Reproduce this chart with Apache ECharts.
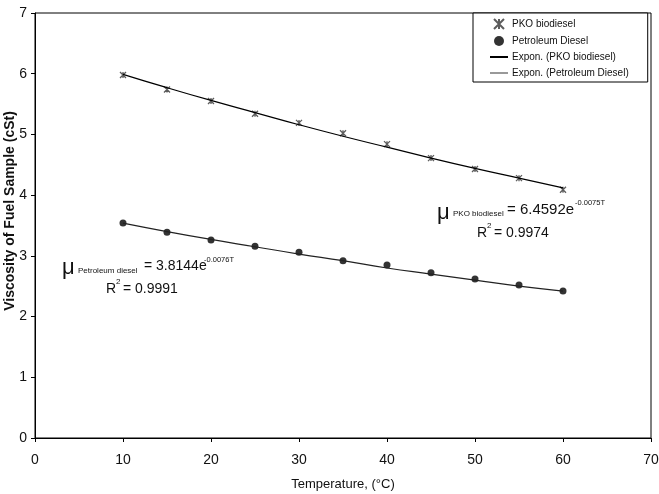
<!DOCTYPE html>
<html>
<head>
<meta charset="utf-8">
<script src="https://cdn.jsdelivr.net/npm/echarts@6/dist/echarts.min.js"></script>
<style>
  html, body { margin: 0; padding: 0; background: #fff; }
  #chart { width: 659px; height: 494px; }
</style>
</head>
<body>
<div id="chart"></div>
<script>
// temperatures (°C)
const temps = [10, 15, 20, 25, 30, 35, 40, 45, 50, 55, 60];
// measured viscosity (cSt)
const pkoValues = [5.98, 5.74, 5.55, 5.34, 5.19, 5.02, 4.84, 4.61, 4.43, 4.28, 4.09];
const dieselValues = [3.54, 3.39, 3.26, 3.16, 3.06, 2.92, 2.85, 2.72, 2.62, 2.52, 2.42];
// exponential trend lines
const pkoTrend = [5.99, 5.77, 5.56, 5.36, 5.16, 4.97, 4.79, 4.61, 4.44, 4.28, 4.12];
const dieselTrend = [3.54, 3.40, 3.27, 3.15, 3.03, 2.92, 2.80, 2.70, 2.60, 2.50, 2.42];

const xTicks = [0, 10, 20, 30, 40, 50, 60, 70];
const yTicks = [0, 1, 2, 3, 4, 5, 6, 7];

const pair = (xs, ys) => xs.map((x, i) => [x, ys[i]]);

const font = "'Liberation Sans', Arial, sans-serif";
const starPath = "path://M0,0L10,10M10,0L0,10M5,0L5,10";

// one piece of annotation text, placed by its left edge and vertical middle
function label(x, y, text, size) {
  return {
    type: "text", x: x, y: y, z: 10,
    style: { text: text, fontFamily: font, fontSize: size, fill: "#111", verticalAlign: "middle" }
  };
}

const chart = echarts.init(document.getElementById("chart"));

chart.setOption({
  animation: false,
  backgroundColor: "#fff",
  grid: {
    left: 35, top: 13, right: 8, bottom: 56,
    outerBoundsMode: "none",
    containLabel: false,
    show: true, borderColor: "#000", borderWidth: 1
  },
  xAxis: {
    type: "value",
    min: xTicks[0], max: xTicks[xTicks.length - 1], interval: 10,
    name: "Temperature, (°C)",
    nameLocation: "middle", nameGap: 40,
    nameTextStyle: { fontFamily: font, fontSize: 13, color: "#111" },
    axisLine: { lineStyle: { color: "#000" } },
    axisTick: { show: true, length: 4, lineStyle: { color: "#000" } },
    axisLabel: { fontFamily: font, fontSize: 14, color: "#111", margin: 15 },
    splitLine: { show: false }
  },
  yAxis: {
    type: "value",
    min: yTicks[0], max: yTicks[yTicks.length - 1], interval: 1,
    axisLine: { lineStyle: { color: "#000" } },
    axisTick: { show: true, length: 4, lineStyle: { color: "#000" } },
    axisLabel: { fontFamily: font, fontSize: 14, color: "#111", margin: 8 },
    splitLine: { show: false }
  },
  legend: {
    orient: "vertical",
    left: 473, top: 13,
    padding: [5, 19, 4, 16],
    itemGap: 6,
    itemWidth: 18, itemHeight: 10,
    backgroundColor: "#fff",
    borderColor: "#000", borderWidth: 1,
    textStyle: { fontFamily: font, fontSize: 10, color: "#111", padding: [0, 0, 0, -1] },
    data: [
      { name: "PKO biodiesel" },
      { name: "Petroleum Diesel" },
      { name: "Expon. (PKO biodiesel)", itemStyle: { color: "rgba(0,0,0,0)", borderWidth: 0 } },
      {
        name: "Expon. (Petroleum Diesel)",
        itemStyle: { color: "rgba(0,0,0,0)", borderWidth: 0 },
        lineStyle: { color: "#999" }
      }
    ]
  },
  series: [
    {
      name: "Expon. (PKO biodiesel)",
      type: "line",
      data: pair(temps, pkoTrend),
      smooth: true,
      showSymbol: false, symbol: "none",
      lineStyle: { color: "#000", width: 1.2 },
      itemStyle: { color: "#000" }
    },
    {
      name: "Expon. (Petroleum Diesel)",
      type: "line",
      data: pair(temps, dieselTrend),
      smooth: true,
      showSymbol: false, symbol: "none",
      lineStyle: { color: "#222", width: 1.2 },
      itemStyle: { color: "#999" }
    },
    {
      name: "PKO biodiesel",
      type: "scatter",
      data: pair(temps, pkoValues),
      symbol: starPath,
      symbolSize: 6,
      itemStyle: { color: "rgba(0,0,0,0)", borderColor: "#333", borderWidth: 1.3 }
    },
    {
      name: "Petroleum Diesel",
      type: "scatter",
      data: pair(temps, dieselValues),
      symbol: "circle",
      symbolSize: 7,
      itemStyle: { color: "#000" }
    }
  ],
  graphic: [
    // y axis title
    {
      type: "text", x: 10, y: 211, rotation: Math.PI / 2,
      style: {
        text: "Viscosity of Fuel Sample (cSt)",
        fontFamily: font, fontSize: 14, fontWeight: "bold", fill: "#111",
        align: "center", verticalAlign: "middle"
      }
    },
    // PKO biodiesel fit
    label(437, 213, "μ", 22),
    label(453, 214, "PKO biodiesel", 8),
    label(507, 210, "= 6.4592e", 15),
    label(575, 203, "-0.0075T", 7.5),
    label(477, 233, "R", 14),
    label(487, 226, "2", 8),
    label(494, 233, "= 0.9974", 14),
    // petroleum diesel fit
    label(62, 268, "μ", 22),
    label(78, 271, "Petroleum diesel", 8),
    label(144, 266, "= 3.8144e", 14),
    label(204, 260, "-0.0076T", 7.5),
    label(106, 289, "R", 14),
    label(116, 282, "2", 8),
    label(123, 289, "= 0.9991", 14)
  ]
});
</script>
</body>
</html>
